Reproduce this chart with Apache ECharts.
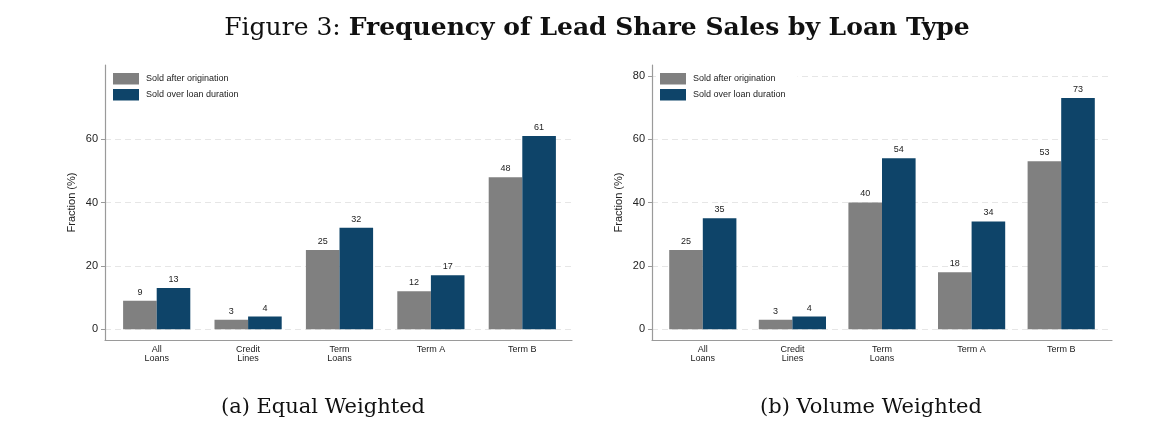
<!DOCTYPE html>
<html>
<head>
<meta charset="utf-8">
<script src="https://cdn.jsdelivr.net/npm/echarts@6/dist/echarts.min.js"></script>
<style>
  html, body { margin: 0; padding: 0; background: #fff; }
  #chart { width: 1164px; height: 424px; }
</style>
</head>
<body>
<div id="chart"></div>
<script>
// data
var categories = ['All\nLoans', 'Credit\nLines', 'Term\nLoans', 'Term A', 'Term B'];
var seriesNames = ['Sold after origination', 'Sold over loan duration'];
var equalAfter = [9, 3, 25, 12, 48];
var equalOver = [13, 4, 32, 17, 61];
var volumeAfter = [25, 3, 40, 18, 53];
var volumeOver = [35, 4, 54, 34, 73];
var ticksLeft = [0, 20, 40, 60];
var ticksRight = [0, 20, 40, 60, 80];

var GRAY = '#808080';
var NAVY = '#0e4469';
var AXIS = '#9a9a9a';
var FONT = 'Liberation Sans';
var SERIF = 'DejaVu Serif';
var Y_MIN = -3.4, Y_MAX = 83.4;

var myChart = echarts.init(document.getElementById('chart'));

function outerY(grid, ticks) {
    return {
        type: 'value', gridIndex: grid, min: Y_MIN, max: Y_MAX,
        name: 'Fraction (%)', nameLocation: 'middle', nameGap: 28,
        nameTextStyle: { fontFamily: FONT, fontSize: 11, color: '#222' },
        axisLine: { show: true, lineStyle: { color: AXIS, width: 1.2 } },
        axisTick: { show: true, length: 4, customValues: ticks, lineStyle: { color: AXIS } },
        axisLabel: { customValues: ticks, margin: 7, fontFamily: FONT, fontSize: 11, color: '#222' },
        splitLine: { show: true, lineStyle: { color: '#e6e6e6', type: [6, 4] } }
    };
}
function innerY(grid) {
    return { type: 'value', gridIndex: grid, min: Y_MIN, max: Y_MAX, show: false };
}
function outerX(grid) {
    return {
        type: 'value', gridIndex: grid, min: 0, max: 1,
        axisLine: { show: true, onZero: false, lineStyle: { color: AXIS, width: 1.2 } },
        axisTick: { show: false }, axisLabel: { show: false }, splitLine: { show: false }
    };
}
function innerX(grid) {
    return {
        type: 'category', gridIndex: grid, data: categories,
        axisLine: { show: false }, axisTick: { show: false },
        axisLabel: { margin: 5, fontFamily: FONT, fontSize: 9, lineHeight: 9, color: '#222' }
    };
}
function bars(name, data, color, axis) {
    return {
        type: 'bar', name: name, data: data,
        xAxisIndex: axis, yAxisIndex: axis,
        barWidth: 33.6, barGap: '0%',
        itemStyle: { color: color },
        label: { show: true, position: 'top', distance: 4, fontFamily: FONT, fontSize: 9, color: '#222' },
        animation: false
    };
}
function legendAt(left) {
    return {
        left: left, top: 69, orient: 'vertical',
        data: seriesNames, icon: 'rect',
        itemWidth: 26, itemHeight: 11.5, itemGap: 4.5,
        padding: [4, 12, 4, 4], backgroundColor: '#fff',
        textStyle: { fontFamily: FONT, fontSize: 9, color: '#222', padding: [0, 0, 0, 2] },
        selectedMode: false
    };
}

option = {
    backgroundColor: '#fff',
    animation: false,
    title: [
        {
            left: 592, top: 11, textAlign: 'center',
            text: '{n|Figure 3: }{b|Frequency of Lead Share Sales by Loan Type}',
            textStyle: {
                rich: {
                    n: { fontFamily: SERIF, fontSize: 25, fontWeight: 'normal', color: '#111' },
                    b: { fontFamily: SERIF, fontSize: 25, fontWeight: 'bold', color: '#111' }
                }
            }
        },
        {
            left: 318, top: 392, textAlign: 'center', text: '(a) Equal Weighted',
            textStyle: { fontFamily: SERIF, fontSize: 21, fontWeight: 'normal', color: '#111' }
        },
        {
            left: 866, top: 392, textAlign: 'center', text: '(b) Volume Weighted',
            textStyle: { fontFamily: SERIF, fontSize: 21, fontWeight: 'normal', color: '#111' }
        }
    ],
    legend: [legendAt(109), legendAt(656)],
    grid: [
        { left: 105, right: 592, top: 65, bottom: 84 },
        { left: 111, right: 596, top: 65, bottom: 84 },
        { left: 652, right: 52, top: 65, bottom: 84 },
        { left: 658, right: 58, top: 65, bottom: 84 }
    ],
    xAxis: [outerX(0), innerX(1), outerX(2), innerX(3)],
    yAxis: [outerY(0, ticksLeft), innerY(1), outerY(2, ticksRight), innerY(3)],
    series: [
        bars(seriesNames[0], equalAfter, GRAY, 1),
        bars(seriesNames[1], equalOver, NAVY, 1),
        bars(seriesNames[0], volumeAfter, GRAY, 3),
        bars(seriesNames[1], volumeOver, NAVY, 3)
    ]
};

myChart.setOption(option);
</script>
</body>
</html>
